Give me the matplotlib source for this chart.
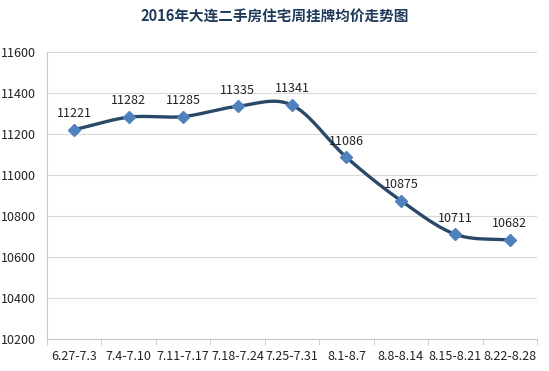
import numpy as np
import matplotlib.pyplot as plt

plt.rcParams['font.family'] = ['Noto Sans CJK SC', 'DejaVu Sans']

weeks = ['6.27-7.3', '7.4-7.10', '7.11-7.17', '7.18-7.24', '7.25-7.31',
         '8.1-8.7', '8.8-8.14', '8.15-8.21', '8.22-8.28']
prices = [11221, 11282, 11285, 11335, 11341, 11086, 10875, 10711, 10682]
title = '2016年大连二手房住宅周挂牌均价走势图'


def smooth_curve(x, y, n=30):
    # Excel-style smoothed line (Catmull-Rom through the points)
    x = np.asarray(x, float)
    y = np.asarray(y, float)
    px = np.concatenate([[2 * x[0] - x[1]], x, [2 * x[-1] - x[-2]]])
    py = np.concatenate([[2 * y[0] - y[1]], y, [2 * y[-1] - y[-2]]])
    xs, ys = [], []
    t = np.linspace(0, 1, n)
    for i in range(1, len(px) - 2):
        for p, out in ((px, xs), (py, ys)):
            p0, p1, p2, p3 = p[i - 1], p[i], p[i + 1], p[i + 2]
            out.extend(0.5 * (2 * p1 + (-p0 + p2) * t
                              + (2 * p0 - 5 * p1 + 4 * p2 - p3) * t ** 2
                              + (-p0 + 3 * p1 - 3 * p2 + p3) * t ** 3))
    return np.array(xs), np.array(ys)


fig = plt.figure(figsize=(5.49, 3.71), dpi=100)
ax = fig.add_axes([47 / 549, 1 - 339 / 371, 490 / 549, 287 / 371])

xpos = np.arange(len(weeks))
sx, sy = smooth_curve(xpos, prices)
ax.plot(sx, sy, color='#2A4868', lw=2.4, zorder=3)
ax.plot(xpos, prices, linestyle='none', marker='D', ms=6,
        color='#4F81BD', mec='#4F81BD', zorder=4)

for x, v in zip(xpos, prices):
    ax.annotate(str(v), (x, v), xytext=(0, 7), textcoords='offset points',
                ha='center', va='bottom', fontsize=9, color='#222222')

ax.set_xlim(-0.5, len(weeks) - 0.5)
ax.set_ylim(10200, 11600)
ax.set_yticks(np.arange(10200, 11601, 200))
ax.set_xticks(xpos)
ax.set_xticklabels(weeks)
ax.set_xticks(np.arange(-0.5, len(weeks), 1), minor=True)
ax.tick_params(axis='x', which='major', length=0, pad=8, labelsize=9,
               labelcolor='#222222')
ax.tick_params(axis='x', which='minor', length=4, color='#C8C8C8')
ax.tick_params(axis='y', length=0, pad=8, labelsize=9, labelcolor='#222222')

ax.grid(axis='y', color='#D9D9D9', lw=0.8)
ax.set_axisbelow(True)
for s in ('top', 'right'):
    ax.spines[s].set_visible(False)
ax.spines['left'].set_color('#C8C8C8')
ax.spines['bottom'].set_color('#C8C8C8')

fig.text(0.5, 1 - 17 / 371, title, ha='center', va='center',
         fontsize=10.5, fontweight='bold', color='#1F3A5A')

fig.savefig('out.png', dpi=100)
